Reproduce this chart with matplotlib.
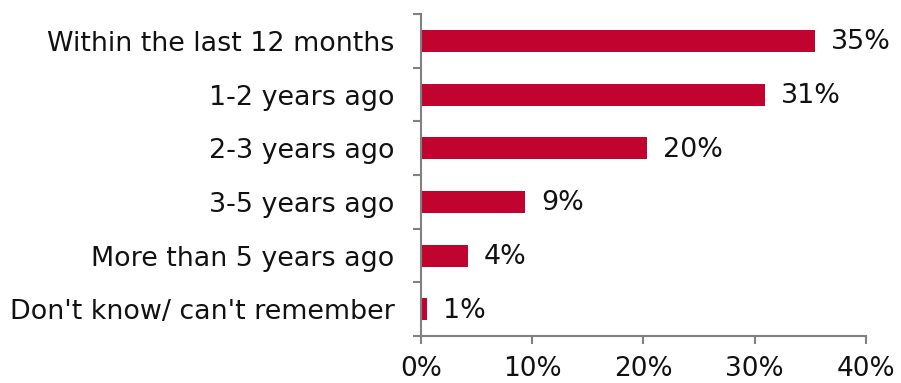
import numpy as np
import matplotlib
matplotlib.use("Agg")
from matplotlib import pyplot as plt

# share of respondents by when it last happened
categories = ["Within the last 12 months", "1-2 years ago", "2-3 years ago",
              "3-5 years ago", "More than 5 years ago", "Don't know/ can't remember"]
shares = [35.4, 30.9, 20.3, 9.4, 4.2, 0.6]
x_ticks = [0, 10, 20, 30, 40]
x_tick_labels = ["0%", "10%", "20%", "30%", "40%"]

bar_color = "#C0032F"
axis_color = "#808080"

plt.rcParams["font.family"] = ["DejaVu Sans"]

fig = plt.figure(figsize=(9.01, 3.83), dpi=100)
ax = fig.add_axes([0.467, 0.1227, 0.494, 0.8407])

pos = np.arange(len(categories))
ax.barh(pos, shares, height=0.41, color=bar_color)

# value labels to the right of each bar
for p, v in zip(pos, shares):
    ax.annotate(f"{v:.0f}%", xy=(v, p), xytext=(11.5, -1), textcoords="offset points",
                va="center", ha="left", fontsize=19.4, color="#111111")

ax.set_xlim(0, 40)
ax.set_ylim(len(categories) - 0.5, -0.5)

ax.set_xticks(x_ticks)
ax.set_xticklabels(x_tick_labels, fontsize=19, color="#111111")
ax.tick_params(axis="x", direction="out", length=6, width=1.5, color=axis_color, pad=8.5)

ax.set_yticks(pos)
ax.set_yticklabels(categories, fontsize=19.4, color="#111111")
ax.set_yticks(np.arange(-0.5, len(categories)), minor=True)
ax.tick_params(axis="y", which="major", length=0, pad=19)
ax.tick_params(axis="y", which="minor", direction="out", length=6, width=1.5, color=axis_color)

for side in ["top", "right"]:
    ax.spines[side].set_visible(False)
for side in ["left", "bottom"]:
    ax.spines[side].set_color(axis_color)
    ax.spines[side].set_linewidth(1.5)

plt.savefig("out.png", dpi=100)
